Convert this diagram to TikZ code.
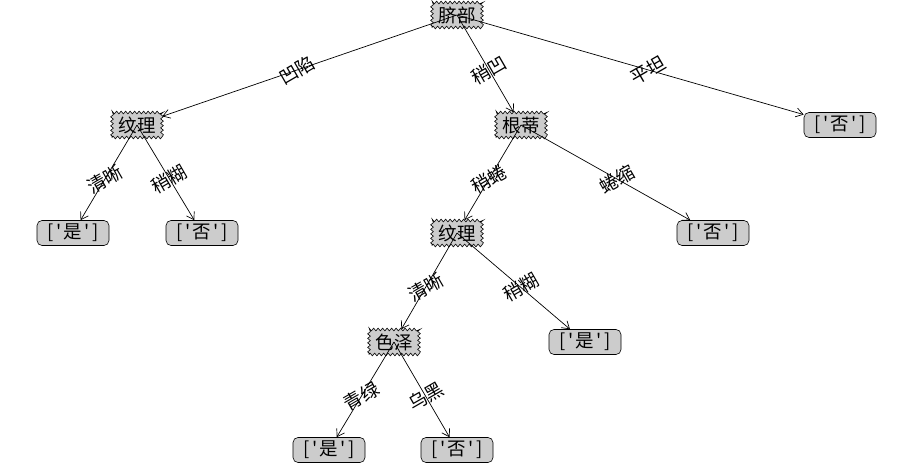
\documentclass[tikz,border=0pt]{standalone}
\usepackage{fontspec}
\newfontfamily\cjk{Noto Sans CJK SC}
\usetikzlibrary{arrows.meta,decorations.pathmorphing}
\definecolor{boxgray}{gray}{0.8}
\newcommand\hw[1]{\makebox[9pt]{#1}}
\newcommand\leaftext[1]{\hw{[}\hw{'}#1\hw{'}\hw{]}}
\begin{document}
\begin{tikzpicture}[x=1pt,y=-1pt,
  txt/.style={font=\cjk\fontsize{18.5}{18.5}\selectfont},
  dec/.style={txt, draw, fill=boxgray, line width=0.6pt, decorate,
    decoration={zigzag, segment length=4.5pt, amplitude=1.4pt},
    minimum width=50pt, minimum height=25pt, inner sep=0pt},
  leaf/.style={txt, draw, fill=boxgray, line width=0.6pt, rounded corners=5pt,
    minimum width=72pt, minimum height=25pt, inner sep=0pt},
  edge/.style={-{Straight Barb[length=7pt,width=9pt]}, line width=0.7pt},
  lab/.style={txt, rotate=30, inner sep=0pt}]
\useasboundingbox (0,0) rectangle (914,467);
% nodes
\node[dec] (root) at (457,15) {脐部};
\node[dec] (t1) at (137,125) {纹理};
\node[dec] (g) at (521,125) {根蒂};
\node[leaf] (f1) at (840,125) {\leaftext{否}};
\node[leaf] (s1) at (73,233) {\leaftext{是}};
\node[leaf] (f2) at (202,233) {\leaftext{否}};
\node[dec] (t2) at (457,233) {纹理};
\node[leaf] (f3) at (713,233) {\leaftext{否}};
\node[dec] (c) at (394,342) {色泽};
\node[leaf] (s2) at (585,342) {\leaftext{是}};
\node[leaf] (s3) at (329,450) {\leaftext{是}};
\node[leaf] (f4) at (457,450) {\leaftext{否}};
% edges
\draw[edge] (root.center) -- (t1);
\draw[edge] (root.center) -- (g);
\draw[edge] (root.center) -- (f1);
\draw[edge] (t1.center) -- (s1);
\draw[edge] (t1.center) -- (f2);
\draw[edge] (g.center) -- (t2);
\draw[edge] (g.center) -- (f3);
\draw[edge] (t2.center) -- (c);
\draw[edge] (t2.center) -- (s2);
\draw[edge] (c.center) -- (s3);
\draw[edge] (c.center) -- (f4);
% labels
\path (root.center) -- (t1.center) node[midway,lab] {凹陷};
\path (root.center) -- (g.center) node[midway,lab] {稍凹};
\path (root.center) -- (f1.center) node[midway,lab] {平坦};
\path (t1.center) -- (s1.center) node[midway,lab] {清晰};
\path (t1.center) -- (f2.center) node[midway,lab] {稍糊};
\path (g.center) -- (t2.center) node[midway,lab] {稍蜷};
\path (g.center) -- (f3.center) node[midway,lab] {蜷缩};
\path (t2.center) -- (c.center) node[midway,lab] {清晰};
\path (t2.center) -- (s2.center) node[midway,lab] {稍糊};
\path (c.center) -- (s3.center) node[midway,lab] {青绿};
\path (c.center) -- (f4.center) node[midway,lab] {乌黑};
\end{tikzpicture}
\end{document}
